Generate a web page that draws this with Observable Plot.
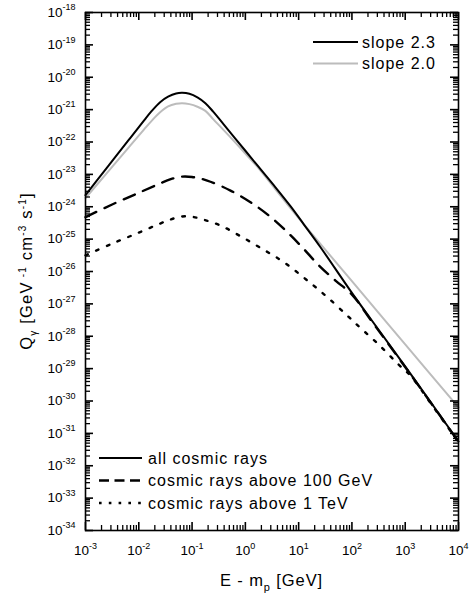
<!DOCTYPE html>
<html>
<head>
<meta charset="utf-8">
<script src="https://cdn.jsdelivr.net/npm/d3@7"></script>
<script src="https://cdn.jsdelivr.net/npm/@observablehq/plot@0.6"></script>
</head>
<body style="margin:0;background:white">
<div id="chart"></div>
<script>
// ---------- data (log10 values) ----------
// all cosmic rays, slope 2.3 (black)
const slope23LogE = [-3, -2.6, -2.2, -1.9, -1.772, -1.6, -1.45, -1.3, -1.186, -1.05, -0.9, -0.75, -0.6, -0.3, 0, 0.284, 0.565, 0.85, 1.1, 1.41, 1.97, 2.35, 3.1, 4];
const slope23LogQ = [-23.64, -22.80, -21.96, -21.33, -21.07, -20.77, -20.60, -20.50, -20.48, -20.51, -20.62, -20.80, -21.07, -21.67, -22.27, -22.84, -23.40, -23.99, -24.55, -25.25, -26.59, -27.46, -29.16, -31.25];
// all cosmic rays, slope 2.0 (gray)
const slope20LogE = [-3, -2.6, -2.2, -1.9, -1.75, -1.6, -1.45, -1.3, -1.186, -1.05, -0.9, -0.75, -0.6, -0.3, 0, 0.284, 0.565, 0.85, 1.035, 2, 3, 4];
const slope20LogQ = [-23.73, -22.96, -22.19, -21.61, -21.33, -21.08, -20.90, -20.82, -20.80, -20.83, -20.91, -21.04, -21.30, -21.82, -22.36, -22.88, -23.46, -24.05, -24.42, -26.30, -28.25, -30.20];
// cosmic rays above 100 GeV (dashed)
const above100LogE = [-3, -2.5, -2.0, -1.6, -1.4, -1.2, -1.0, -0.716, -0.279, 0.096, 0.44, 0.753, 1.066, 1.378, 1.691, 2.005, 2.35, 3.1, 4];
const above100LogQ = [-24.32, -23.93, -23.57, -23.28, -23.15, -23.07, -23.08, -23.19, -23.50, -23.86, -24.27, -24.73, -25.25, -25.81, -26.28, -26.72, -27.49, -29.18, -31.26];
// cosmic rays above 1 TeV (dotted)
const above1TeVLogE = [-3, -2.5, -2.0, -1.6, -1.4, -1.186, -1.0, -0.842, -0.467, -0.059, 0.346, 0.721, 1.128, 1.536, 1.911, 2.098, 2.504, 2.879, 3.1, 3.5, 4];
const above1TeVLogQ = [-25.50, -25.14, -24.80, -24.52, -24.39, -24.30, -24.31, -24.37, -24.58, -24.94, -25.33, -25.71, -26.23, -26.79, -27.36, -27.65, -28.26, -28.88, -29.22, -30.12, -31.27];

// tick exponents
const xTickExps = [-3, -2, -1, 0, 1, 2, 3, 4];
const yTickExps = [-34, -33, -32, -31, -30, -29, -28, -27, -26, -25, -24, -23, -22, -21, -20, -19, -18];
const minorMultipliers = [2, 3, 4, 5, 6, 7, 8, 9];

// legends
const topLegendLabels = ["slope 2.3", "slope 2.0"];
const bottomLegendLabels = ["all cosmic rays", "cosmic rays above 100 GeV", "cosmic rays above 1 TeV"];

// ---------- build tables ----------
const toRows = (le, lq) => le.map((e, i) => ({E: Math.pow(10, e), Q: Math.pow(10, lq[i])}));
const slope23 = toRows(slope23LogE, slope23LogQ);
const slope20 = toRows(slope20LogE, slope20LogQ);
const above100 = toRows(above100LogE, above100LogQ);
const above1TeV = toRows(above1TeVLogE, above1TeVLogQ);

const xMajor = xTickExps.map(e => Math.pow(10, e));
const yMajor = yTickExps.map(e => Math.pow(10, e));
const xMinor = xTickExps.slice(0, -1).flatMap(e => minorMultipliers.map(m => m * Math.pow(10, e)));
const yMinor = yTickExps.slice(0, -1).flatMap(e => minorMultipliers.map(m => m * Math.pow(10, e)));

// ---------- layout ----------
const W = 469, H = 596;
const mL = 85, mR = 11, mT = 12, mB = 66;
const iW = W - mL - mR, iH = H - mT - mB;
const FONT = "Liberation Sans, Arial, sans-serif";
const majorLen = 8, minorLen = 5;
const expFmt = d => "10^" + Math.round(Math.log10(d));

const chart = Plot.plot({
  width: W, height: H,
  marginLeft: mL, marginRight: mR, marginTop: mT, marginBottom: mB,
  style: {fontFamily: FONT},
  x: {type: "log", domain: [1e-3, 1e4], label: null},
  y: {type: "log", domain: [1e-34, 1e-18], label: null},
  marks: [
    Plot.line(slope20, {x: "E", y: "Q", stroke: "#bcbcbc", strokeWidth: 2, curve: "catmull-rom"}),
    Plot.line(above1TeV, {x: "E", y: "Q", stroke: "black", strokeWidth: 2.4, strokeDasharray: "2.6,9", curve: "catmull-rom"}),
    Plot.line(above100, {x: "E", y: "Q", stroke: "black", strokeWidth: 2.4, strokeDasharray: "12,9", curve: "catmull-rom"}),
    Plot.line(slope23, {x: "E", y: "Q", stroke: "black", strokeWidth: 2, curve: "catmull-rom"}),
    Plot.axisX({ticks: xMajor, tickSize: 0, tickPadding: 15, tickFormat: expFmt, fontSize: 13.5, label: null}),
    Plot.axisY({ticks: yMajor, tickSize: 0, tickPadding: 10, tickFormat: expFmt, fontSize: 13.5, label: null}),
    Plot.frame({stroke: "black", strokeWidth: 1.6}),
    // inward ticks: bottom & top
    Plot.ruleX(xMinor, {insetTop: iH - minorLen, stroke: "black", strokeWidth: 1.3}),
    Plot.ruleX(xMinor, {insetBottom: iH - minorLen, stroke: "black", strokeWidth: 1.3}),
    Plot.ruleX(xMajor, {insetTop: iH - majorLen, stroke: "black", strokeWidth: 1.6}),
    Plot.ruleX(xMajor, {insetBottom: iH - majorLen, stroke: "black", strokeWidth: 1.6}),
    // inward ticks: left & right
    Plot.ruleY(yMinor, {insetRight: iW - minorLen, stroke: "black", strokeWidth: 1.3}),
    Plot.ruleY(yMinor, {insetLeft: iW - minorLen, stroke: "black", strokeWidth: 1.3}),
    Plot.ruleY(yMajor, {insetRight: iW - majorLen, stroke: "black", strokeWidth: 1.6}),
    Plot.ruleY(yMajor, {insetLeft: iW - majorLen, stroke: "black", strokeWidth: 1.6})
  ]
});

document.getElementById("chart").appendChild(chart);
const svg = d3.select(chart);

// superscripts in tick labels
svg.selectAll('g[aria-label="x-axis tick label"] text, g[aria-label="y-axis tick label"] text').each(function () {
  const t = this.textContent;
  if (!t.includes("^")) return;
  const [base, exp] = t.split("^");
  const el = d3.select(this);
  el.text(null);
  el.append("tspan").text(base);
  el.append("tspan").attr("dy", -6.5).attr("font-size", 9).text(exp);
});

// x-axis title
const xt = svg.append("text")
  .attr("x", mL + iW / 2).attr("y", 586)
  .attr("text-anchor", "middle")
  .attr("font-family", FONT).attr("font-size", 16.5).attr("letter-spacing", 0.9).attr("fill", "black");
xt.append("tspan").text("E - m");
xt.append("tspan").attr("dy", 5).attr("font-size", 11).text("p");
xt.append("tspan").attr("dy", -5).text(" [GeV]");

// y-axis title
const yt = svg.append("text")
  .attr("transform", `translate(32,${mT + iH / 2}) rotate(-90)`)
  .attr("text-anchor", "middle")
  .attr("font-family", FONT).attr("font-size", 16.5).attr("letter-spacing", 1.2).attr("fill", "black");
const yParts = [
  ["Q", 0, null], ["γ", 5, 10], [" [GeV", -5, null], [" -1", -6.5, 10], [" cm", 6.5, null],
  ["-3", -6.5, 10], [" s", 6.5, null], ["-1", -6.5, 10], ["]", 6.5, null]
];
yParts.forEach(([txt, dy, fs]) => {
  const ts = yt.append("tspan").text(txt);
  if (dy) ts.attr("dy", dy);
  if (fs) ts.attr("font-size", fs);
});

// legends
const legendFont = 16, legendSpacing = 1.0;
const topStyles = [{stroke: "black"}, {stroke: "#bcbcbc"}];
topLegendLabels.forEach((label, i) => {
  const y = mT + 30 + i * 21.5;
  svg.append("line").attr("x1", W - mR - 145).attr("x2", W - mR - 100).attr("y1", y).attr("y2", y)
    .attr("stroke", topStyles[i].stroke).attr("stroke-width", 2);
  svg.append("text").attr("x", W - mR - 96).attr("y", y).attr("dy", "0.35em")
    .attr("text-anchor", "start")
    .attr("font-family", FONT).attr("font-size", legendFont).attr("letter-spacing", legendSpacing)
    .attr("fill", "black").text(label);
});
const bottomStyles = [
  {dash: null, width: 2},
  {dash: "10,5.5", width: 2.4},
  {dash: "2.6,7.2", width: 2.4}
];
bottomLegendLabels.forEach((label, i) => {
  const y = H - mB - 72 + i * 22.5;
  svg.append("line").attr("x1", mL + 14).attr("x2", mL + 57).attr("y1", y).attr("y2", y)
    .attr("stroke", "black").attr("stroke-width", bottomStyles[i].width)
    .attr("stroke-dasharray", bottomStyles[i].dash);
  svg.append("text").attr("x", mL + 63).attr("y", y).attr("dy", "0.35em")
    .attr("text-anchor", "start")
    .attr("font-family", FONT).attr("font-size", legendFont).attr("letter-spacing", legendSpacing)
    .attr("fill", "black").text(label);
});
</script>
</body>
</html>
